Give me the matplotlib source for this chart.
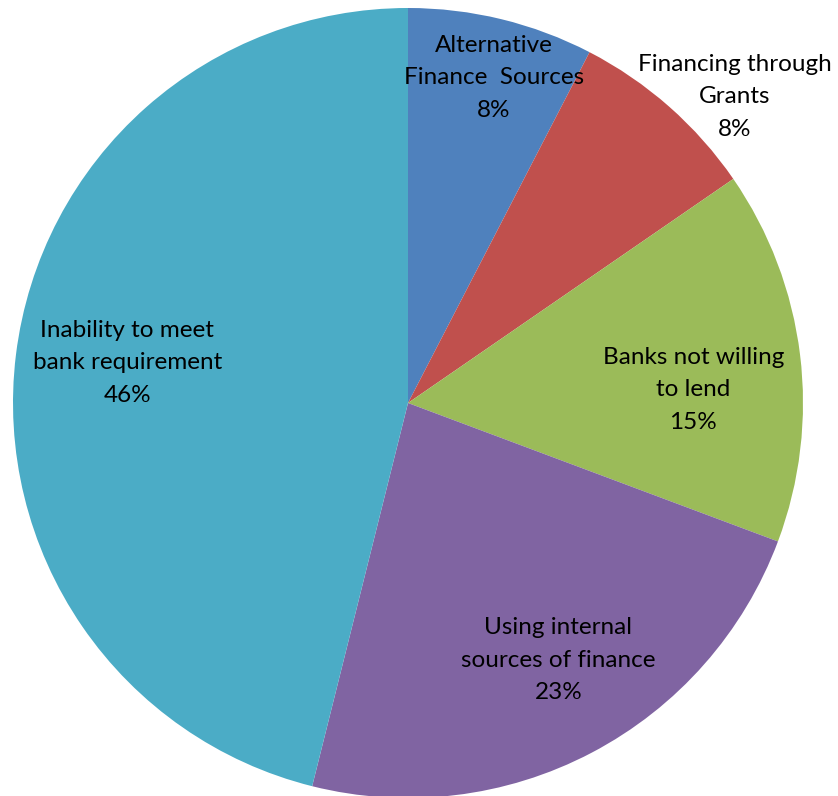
import matplotlib
matplotlib.use("Agg")
import matplotlib.pyplot as plt
import numpy as np

categories = ["Alternative\nFinance  Sources", "Financing through\nGrants",
              "Banks not willing\nto lend", "Using internal\nsources of finance",
              "Inability to meet\nbank requirement"]
values = [7.6, 7.8, 15.3, 23.2, 46.1]
colors = ["#4F81BD", "#C0504D", "#9BBB59", "#8064A2", "#4BACC6"]

# label placement (radius factor, angular offset in degrees from slice middle)
label_r = [0.851, 1.134, 0.723, 0.754, 0.718]
label_dang = [-1.1, -5.5, -4.4, 2.6, -1.1]

fig = plt.figure(figsize=(8.38, 7.96), dpi=100)
ax = fig.add_axes([0, 0, 1, 1])
wedges, _ = ax.pie(values, colors=colors, startangle=90, counterclock=False,
                   radius=1, center=(0, 0), frame=True,
                   wedgeprops=dict(linewidth=0))
ax.set_xlim(-408/395, (838-408)/395)
ax.set_ylim(-393/395, (796-393)/395)
ax.set_aspect('auto')
ax.axis('off')

total = sum(values)
for w, cat, v, r, da in zip(wedges, categories, values, label_r, label_dang):
    mid = np.deg2rad((w.theta1 + w.theta2) / 2 + da)
    ax.text(r*np.cos(mid), r*np.sin(mid), f"{cat}\n{v/total*100:.0f}%",
            ha='center', va='center', fontsize=17.5, family='Lato',
            linespacing=1.7, color='black')

fig.savefig("out.png", dpi=100)
